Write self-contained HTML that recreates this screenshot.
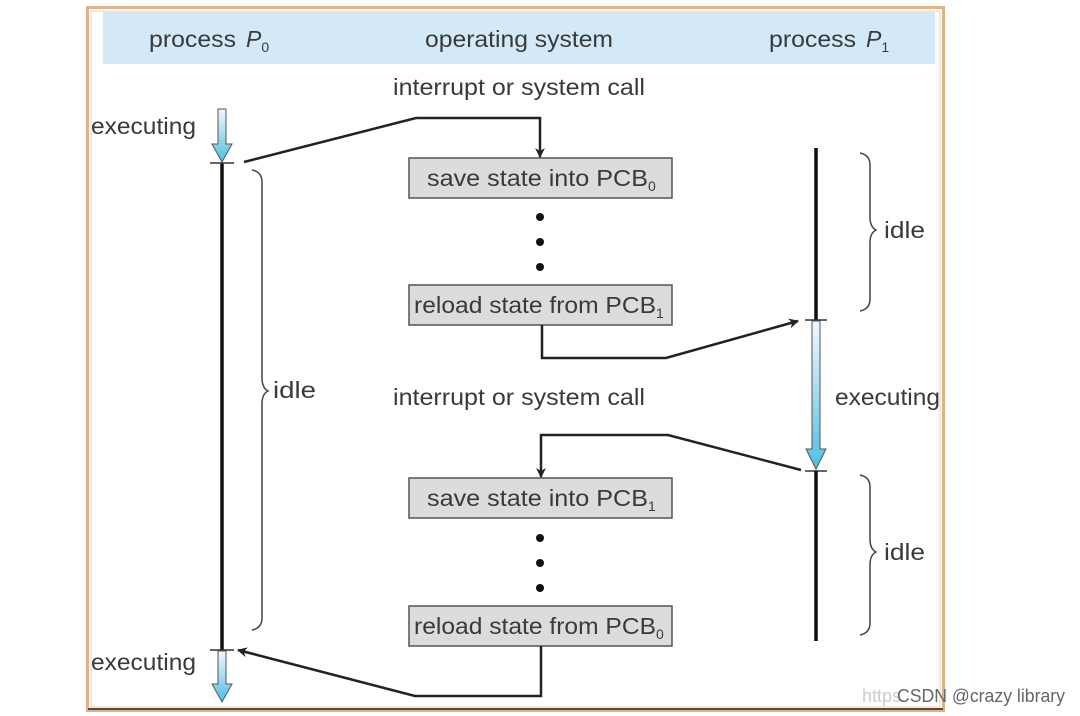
<!DOCTYPE html>
<html><head><meta charset="utf-8"><style>
html,body{margin:0;padding:0;background:#fff;width:1080px;height:716px;overflow:hidden}
svg text{font-family:"Liberation Sans",sans-serif;fill:#3a3a3a}
</style></head><body>
<svg width="1080" height="716" viewBox="0 0 1080 716" xmlns="http://www.w3.org/2000/svg">
<defs>
<linearGradient id="g" x1="0" y1="0" x2="0" y2="1"><stop offset="0" stop-color="#f2f8fd"/><stop offset="1" stop-color="#4fbfe3"/></linearGradient>
<marker id="ah" markerWidth="10" markerHeight="10" refX="9" refY="5" orient="auto" markerUnits="userSpaceOnUse"><path d="M0,0 L10,5 L0,10 L3,5 Z" fill="#222"/></marker>
</defs>
<rect x="87.5" y="7.5" width="856" height="703" fill="#fff" stroke="#dcb48c" stroke-width="3"/>
<rect x="91" y="11" width="849" height="696" fill="none" stroke="#ecd2b4" stroke-width="1"/>
<line x1="88" y1="709" x2="943" y2="709" stroke="#5a4a3a" stroke-width="2"/>
<rect x="103" y="12" width="832" height="52" fill="#d4e9f7"/>
<text x="149" y="47" font-size="23"><tspan textLength="87" lengthAdjust="spacingAndGlyphs">process</tspan><tspan x="246" font-style="italic">P</tspan><tspan font-size="14" dy="5">0</tspan></text>
<text x="425" y="47" font-size="23" textLength="188" lengthAdjust="spacingAndGlyphs">operating system</text>
<text x="769" y="47" font-size="23"><tspan textLength="87" lengthAdjust="spacingAndGlyphs">process</tspan><tspan x="866" font-style="italic">P</tspan><tspan font-size="14" dy="5">1</tspan></text>
<text x="393" y="95" font-size="23" textLength="252" lengthAdjust="spacingAndGlyphs">interrupt or system call</text>
<text x="393" y="405" font-size="23" textLength="252" lengthAdjust="spacingAndGlyphs">interrupt or system call</text>
<text x="91" y="134" font-size="23" textLength="105" lengthAdjust="spacingAndGlyphs">executing</text>
<text x="91" y="670" font-size="23" textLength="105" lengthAdjust="spacingAndGlyphs">executing</text>
<text x="835" y="405" font-size="23" textLength="105" lengthAdjust="spacingAndGlyphs">executing</text>
<text x="273" y="398" font-size="23" textLength="43" lengthAdjust="spacingAndGlyphs">idle</text>
<text x="884" y="238" font-size="23" textLength="41" lengthAdjust="spacingAndGlyphs">idle</text>
<text x="884" y="560" font-size="23" textLength="41" lengthAdjust="spacingAndGlyphs">idle</text>
<!-- P0 -->
<path d="M218,109 h8 v35 h6 l-10,18 l-10,-18 h6 z" fill="url(#g)" stroke="#555" stroke-width="1"/>
<line x1="222" y1="163" x2="222" y2="650" stroke="#111" stroke-width="3.5"/>
<line x1="210" y1="163" x2="234" y2="163" stroke="#333" stroke-width="1.5"/>
<line x1="210" y1="650" x2="234" y2="650" stroke="#333" stroke-width="1.5"/>
<path d="M218,651 h8 v33 h6 l-10,18 l-10,-18 h6 z" fill="url(#g)" stroke="#555" stroke-width="1"/>
<path d="M252,170 q10,2 10,12 v196 q0,10 6,13 q-6,3 -6,13 v214 q0,10 -10,12" fill="none" stroke="#444" stroke-width="1.5"/>
<!-- P1 -->
<line x1="816" y1="148" x2="816" y2="320" stroke="#111" stroke-width="3.5"/>
<line x1="805" y1="320" x2="827" y2="320" stroke="#333" stroke-width="1.5"/>
<path d="M812,321 h8 v128 h6 l-10,20 l-10,-20 h6 z" fill="url(#g)" stroke="#555" stroke-width="1"/>
<line x1="805" y1="471" x2="827" y2="471" stroke="#333" stroke-width="1.5"/>
<line x1="816" y1="471" x2="816" y2="641" stroke="#111" stroke-width="3.5"/>
<path d="M860,153 q10,2 10,12 v52 q0,10 6,13 q-6,3 -6,13 v56 q0,10 -10,12" fill="none" stroke="#444" stroke-width="1.5"/>
<path d="M860,475 q10,2 10,12 v52 q0,10 6,13 q-6,3 -6,13 v58 q0,10 -10,12" fill="none" stroke="#444" stroke-width="1.5"/>
<!-- boxes -->
<g fill="#dcdcdc" stroke="#555" stroke-width="1.5">
<rect x="409" y="158" width="263" height="40"/>
<rect x="409" y="285" width="263" height="40"/>
<rect x="409" y="478" width="263" height="40"/>
<rect x="409" y="606" width="263" height="40"/>
</g>
<text x="427" y="186" font-size="23"><tspan textLength="221" lengthAdjust="spacingAndGlyphs">save state into PCB</tspan><tspan font-size="14" dy="5">0</tspan></text>
<text x="414" y="313" font-size="23"><tspan textLength="242" lengthAdjust="spacingAndGlyphs">reload state from PCB</tspan><tspan font-size="14" dy="5">1</tspan></text>
<text x="427" y="506" font-size="23"><tspan textLength="221" lengthAdjust="spacingAndGlyphs">save state into PCB</tspan><tspan font-size="14" dy="5">1</tspan></text>
<text x="414" y="634" font-size="23"><tspan textLength="242" lengthAdjust="spacingAndGlyphs">reload state from PCB</tspan><tspan font-size="14" dy="5">0</tspan></text>
<g fill="#111">
<circle cx="540" cy="217" r="4"/><circle cx="540" cy="242" r="4"/><circle cx="540" cy="267" r="4"/>
<circle cx="540" cy="538" r="4"/><circle cx="540" cy="563" r="4"/><circle cx="540" cy="588" r="4"/>
</g>
<!-- connectors -->
<g fill="none" stroke="#222" stroke-width="2.5">
<polyline points="244,162 416,118 540,118 540,157" marker-end="url(#ah)"/>
<polyline points="542,325 542,358 666,358 798,321" marker-end="url(#ah)"/>
<polyline points="801,470 668,435 541,435 541,477" marker-end="url(#ah)"/>
<polyline points="541,646 541,696 415,696 238,650" marker-end="url(#ah)"/>
</g>
<text x="862" y="702" font-size="18" style="fill:#ccc">https</text>
<text x="897" y="702" font-size="18" textLength="168" lengthAdjust="spacingAndGlyphs" style="fill:#666">CSDN @crazy library</text>
</svg>
</body></html>
